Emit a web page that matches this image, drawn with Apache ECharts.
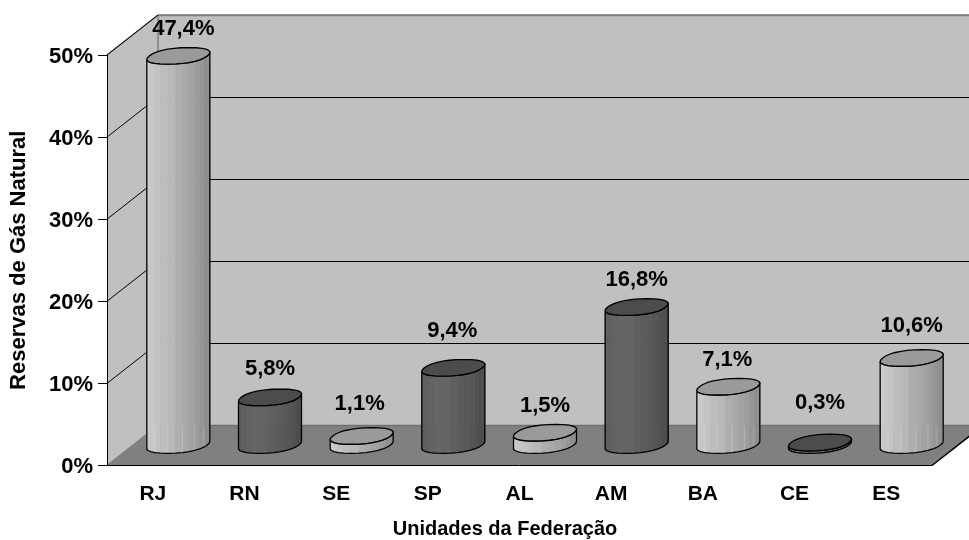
<!DOCTYPE html>
<html>
<head>
<meta charset="utf-8">
<style>html,body{margin:0;padding:0;background:#fff}#chart{width:969px;height:540px}</style>
<script src="https://cdn.jsdelivr.net/npm/echarts@6/dist/echarts.min.js"></script>
</head>
<body>
<div id="chart"></div>
<script>
// Reservas de gás natural por unidade da federação
const categories = ['RJ','RN','SE','SP','AL','AM','BA','CE','ES'];
const reservePct = [47.4,5.8,1.1,9.4,1.5,16.8,7.1,0.3,10.6];
const barTone = ['light','dark','light','dark','light','dark','light','dark','light'];
const valueTicks = [0,10,20,30,40,50];

// Oblique projection of the chart box
const DEPTH_X = 51, DEPTH_Y = -40;
const FONT = '"Liberation Sans", Arial, sans-serif';
// Space between each value label and its cylinder top, plus sideways nudge
const labelLift = [26.5,28.5,32.5,37,26.5,27.5,27,39.5,32.5];
const labelNudge = [5,0,-2,-1,0,0,-1,0,0];

const SIDE = {
  light: ['#cbcbcb','#c8c8c8','#c3c3c3','#bdbdbd','#b8b8b8','#b3b3b3','#aeaeae','#a9a9a9','#a3a3a3','#9d9d9d','#969696','#8f8f8f'],
  dark:  ['#5e5e5e','#606060','#636363','#656565','#646464','#626262','#5f5f5f','#5c5c5c','#595959','#565656','#525252','#4d4d4d']
};
const TOP = { light: '#9a9a9a', dark: '#4c4c4c' };

// Rim of a cylinder: a rounded parallelogram skewed along the depth direction
const RIM_STEPS = 28, HALF_WIDTH = 31.5;
const rimRaw = [];
for (let k = 0; k < RIM_STEPS; k++) {
  const t = k * Math.PI * 2 / RIM_STEPS;
  const c = Math.sign(Math.cos(t)) * Math.pow(Math.abs(Math.cos(t)), 0.88);
  const s = Math.sign(Math.sin(t)) * Math.pow(Math.abs(Math.sin(t)), 0.88);
  rimRaw.push([29 * c + 10.6 * s, -8.3 * s]);
}
const rimMaxX = Math.max(...rimRaw.map(p => p[0]));
const rim = rimRaw.map(p => [p[0] * HALF_WIDTH / rimMaxX, p[1]]);
const rimRight = rim.findIndex(p => p[0] === Math.max(...rim.map(q => q[0])));
const rimLeft = rim.findIndex(p => p[0] === Math.min(...rim.map(q => q[0])));
// Front half of the rim, from its left extreme round the near side to its right extreme
const rimFront = [];
for (let k = rimLeft; ; k = (k + 1) % RIM_STEPS) {
  rimFront.push(rim[k]);
  if (k === rimRight) break;
}

function renderBox(params, api) {
  const y = api.value(0);
  const p = api.coord([0, y]);
  const cs = params.coordSys;
  const left = cs.x, right = cs.x + cs.width;
  const py = Math.round(p[1]) + 0.5;
  const children = [];
  if (params.dataIndex === 0) {
    const top = cs.y, bot = cs.y + cs.height;
    const face = (pts, fill) => ({ type: 'polygon', shape: { points: pts }, style: { fill: fill, stroke: null } });
    const edge = (a, b, col) => ({ type: 'line', shape: { x1: a[0], y1: a[1], x2: b[0], y2: b[1] }, style: { stroke: col, lineWidth: 1.5 } });
    children.push(
      face([[left + DEPTH_X, top + DEPTH_Y], [right + DEPTH_X, top + DEPTH_Y], [right + DEPTH_X, bot + DEPTH_Y], [left + DEPTH_X, bot + DEPTH_Y]], '#c0c0c0'),
      face([[left, top], [left + DEPTH_X, top + DEPTH_Y], [left + DEPTH_X, bot + DEPTH_Y], [left, bot]], '#c0c0c0'),
      face([[left, bot], [right, bot], [right + DEPTH_X, bot + DEPTH_Y], [left + DEPTH_X, bot + DEPTH_Y]], '#808080'),
      edge([left, top], [left + DEPTH_X, top + DEPTH_Y], '#808080'),
      edge([left + DEPTH_X, top + DEPTH_Y], [right + DEPTH_X, top + DEPTH_Y], '#808080'),
      edge([left + DEPTH_X, top + DEPTH_Y], [left + DEPTH_X, bot + DEPTH_Y], '#808080'),
      edge([left, bot], [left + DEPTH_X, bot + DEPTH_Y], '#808080'),
      edge([left + DEPTH_X, bot + DEPTH_Y], [right + DEPTH_X, bot + DEPTH_Y], '#707070'),
      edge([right, bot], [right + DEPTH_X, bot + DEPTH_Y], '#000')
    );
  }
  if (y > 0) {
    const line = { stroke: '#000', lineWidth: 1 };
    children.push(
      { type: 'line', shape: { x1: left, y1: p[1], x2: left + DEPTH_X, y2: p[1] + DEPTH_Y }, style: line },
      { type: 'line', shape: { x1: left + DEPTH_X, y1: py + DEPTH_Y, x2: right + DEPTH_X, y2: py + DEPTH_Y }, style: y === 50 ? { stroke: '#808080', lineWidth: 1.5 } : line }
    );
  }
  return { type: 'group', children: children };
}

function renderCylinder(params, api) {
  const i = api.value(0), v = api.value(1);
  const tone = barTone[i];
  const base = api.coord([i, 0]);
  const head = api.coord([i, v]);
  const cx = base[0] + DEPTH_X / 2;
  const by = base[1] + DEPTH_Y / 2 - 0.5;
  const ty = head[1] + DEPTH_Y / 2 - 0.5;
  const floorBack = base[1] + DEPTH_Y;

  const children = [];
  const tones = SIDE[tone];
  for (let k = 0; k + 1 < rimFront.length; k++) {
    const a = rimFront[k], b = rimFront[k + 1];
    const shade = Math.min(11, Math.floor(((a[0] + b[0]) / 2 + HALF_WIDTH) / (2 * HALF_WIDTH) * 12));
    children.push({
      type: 'polygon',
      shape: { points: [[cx + a[0], ty + a[1]], [cx + b[0], ty + b[1]], [cx + b[0], by + b[1]], [cx + a[0], by + a[1]]] },
      style: { fill: tones[shade], stroke: tones[shade], lineWidth: 0.6 }
    });
    // Pale facet seams visible over the floor band
    if (k > 2 && k % 2 === 1 && ty + a[1] < floorBack && tone === 'light') {
      children.push({
        type: 'line',
        shape: { x1: cx + a[0], y1: floorBack, x2: cx + a[0], y2: by + a[1] },
        style: { stroke: 'rgba(255,255,255,0.25)', lineWidth: 1 }
      });
    }
  }
  // Outline of the body
  const outline = rimFront.map(a => [cx + a[0], by + a[1]])
    .concat(rimFront.slice().reverse().map(a => [cx + a[0], ty + a[1]]));
  children.push({ type: 'polygon', shape: { points: outline }, style: { fill: 'none', stroke: '#000', lineWidth: 1.3, lineJoin: 'round' } });
  // Cap
  children.push({ type: 'polygon', shape: { points: rim.map(a => [cx + a[0], ty + a[1]]) }, style: { fill: TOP[tone], stroke: '#000', lineWidth: 1.3, lineJoin: 'round' } });
  // Value label
  children.push({
    type: 'text',
    style: {
      x: cx + labelNudge[i], y: ty - labelLift[i],
      text: v.toFixed(1).replace('.', ',') + '%',
      fill: '#000', font: 'bold 22px ' + FONT,
      align: 'center', verticalAlign: 'middle'
    }
  });
  return { type: 'group', children: children };
}

const chart = echarts.init(document.getElementById('chart'), null, { renderer: 'canvas' });
chart.setOption({
  animation: false,
  backgroundColor: '#fff',
  grid: { left: 107, right: 37, top: 55, bottom: 74.5, containLabel: false, outerBoundsMode: 'none' },
  xAxis: {
    type: 'category', data: categories, z: 5,
    name: 'Unidades da Federação', nameLocation: 'middle', nameGap: 54,
    nameTextStyle: { fontFamily: FONT, fontWeight: 'bold', fontSize: 20, color: '#000', padding: [0, 29, 0, 0] },
    axisLine: { lineStyle: { color: '#000', width: 1 } },
    axisTick: { alignWithLabel: false, length: 7, lineStyle: { color: '#000' } },
    axisLabel: { fontFamily: FONT, fontWeight: 'bold', fontSize: 21, color: '#000', margin: 18 },
    splitLine: { show: false }
  },
  yAxis: {
    type: 'value', min: 0, max: 50, interval: 10, z: 5,
    name: 'Reservas de Gás Natural', nameLocation: 'middle', nameGap: 77,
    nameTextStyle: { fontFamily: FONT, fontWeight: 'bold', fontSize: 22, color: '#000' },
    axisLine: { show: true, lineStyle: { color: '#000', width: 1 } },
    axisTick: { show: true, length: 9, lineStyle: { color: '#000' } },
    axisLabel: { fontFamily: FONT, fontWeight: 'bold', fontSize: 22, color: '#000', margin: 14, verticalAlign: 'top', lineHeight: 3, formatter: '{value}%' },
    splitLine: { show: false }
  },
  series: [
    { type: 'custom', coordinateSystem: 'cartesian2d', clip: false, z: 1, silent: true, renderItem: renderBox,
      encode: { y: 0 }, data: valueTicks.map(t => [t]) },
    { type: 'custom', coordinateSystem: 'cartesian2d', clip: false, z: 3, silent: true, renderItem: renderCylinder,
      encode: { x: 0, y: 1 }, data: reservePct.map((v, i) => [i, v]) }
  ]
});
</script>
</body>
</html>
